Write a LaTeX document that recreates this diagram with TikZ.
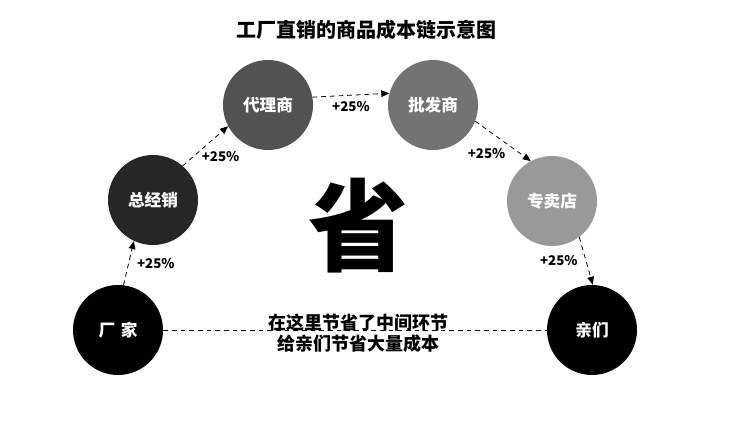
\documentclass[tikz,border=0pt]{standalone}
\usepackage{fontspec}
\setmainfont{Noto Sans CJK SC}
\newfontfamily\heavyfont{Noto Sans CJK SC Black}
\usetikzlibrary{arrows.meta,positioning}

\begin{document}
\begin{tikzpicture}[
  x=0.75pt,y=-0.75pt,
  hub/.style={circle,minimum size=67.5pt,inner sep=0pt,text=white,font=\bfseries\fontsize{12.5pt}{12.5pt}\selectfont},
  hop/.style={dash pattern=on 3.5pt off 3pt,line width=.6pt,-{Triangle[length=6pt,width=5pt]}},
  rise/.style={font=\bfseries\fontsize{10pt}{10pt}\selectfont,inner sep=2pt}
]
  \useasboundingbox (0,0) rectangle (750,424);

  \node[font=\bfseries\fontsize{15pt}{15pt}\selectfont] (title) at (366,30) {工厂直销的商品成本链示意图};

  \node[hub,fill=black] (factory) at (118,330) {厂\,\,家};
  \node[hub,fill=black!85] (general) at (153,200) {总经销};
  \node[hub,fill=black!68] (agent) at (268,105) {代理商};
  \node[hub,fill=black!55] (wholesale) at (433,105) {批发商};
  \node[hub,fill=black!40] (store) at (552,201) {专卖店};
  \node[hub,fill=black] (buyer) at (592,330) {亲们};

  \node[font=\heavyfont\fontsize{75pt}{75pt}\selectfont] (save) at (358,226) {省};

  % markup along the chain
  \draw[hop] (factory.83) -- node[rise,right=4pt]{+25\%} (general.245);
  \draw[hop] (general.49) -- node[rise,below right=2pt and -5pt]{+25\%} (agent.208);
  \draw[hop] (agent.10) -- node[rise,below=2pt]{+25\%} (wholesale.165);
  \draw[hop] (wholesale.339) -- node[rise,below left=3pt and -4pt]{+25\%} (store.118);
  \draw[hop] (store.307) -- node[rise,left=4pt]{+25\%} (buyer.89);

  % direct route
  \draw[dash pattern=on 3.5pt off 3pt,line width=.6pt] (factory) -- (buyer);
  \node[align=center,font=\fontsize{13.5pt}{15.75pt}\selectfont\bfseries] (note) at (358,333)
    {在这里节省了中间环节\\给亲们节省大量成本};
\end{tikzpicture}
\end{document}
